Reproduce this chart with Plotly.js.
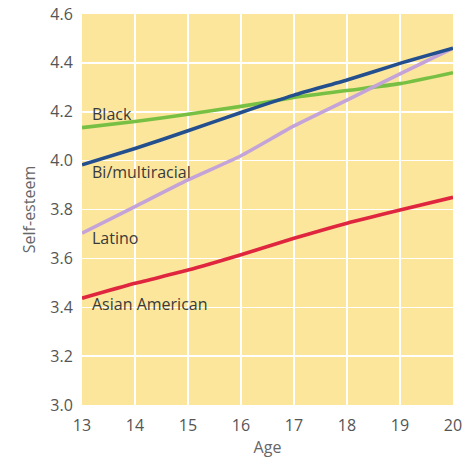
<!DOCTYPE html>
<html>
<head>
<meta charset="utf-8">
<script src="https://cdn.plot.ly/plotly-3.0.1.min.js"></script>
<style>html,body{margin:0;padding:0;background:#fff;}#chart{width:473px;height:464px;}</style>
</head>
<body>
<div id="chart"></div>
<script>
const ages = [13, 14, 15, 16, 17, 18, 19, 20];
const black = [4.135, 4.16, 4.19, 4.222, 4.258, 4.287, 4.315, 4.36];
const biMulti = [3.983, 4.05, 4.122, 4.197, 4.268, 4.33, 4.398, 4.46];
const latino = [3.703, 3.812, 3.921, 4.02, 4.142, 4.248, 4.355, 4.46];
const asianAmerican = [3.437, 3.498, 3.552, 3.615, 3.682, 3.744, 3.798, 3.85];
const seriesNames = ["Black", "Bi/multiracial", "Latino", "Asian American"];
const labelY = [4.19, 3.953, 3.683, 3.413];
const yTicks = [3.0, 3.2, 3.4, 3.6, 3.8, 4.0, 4.2, 4.4, 4.6];

const colors = ["#78c043", "#234f8e", "#c3a3d8", "#e0253f"];
const traces = [black, biMulti, latino, asianAmerican].map((vals, i) => ({
  x: ages, y: vals, type: "scatter", mode: "lines", name: seriesNames[i],
  line: {color: colors[i], width: 3.6, shape: "spline", smoothing: 0.6},
  hoverinfo: "skip"
}));
// draw order: black, latino, asian, bi/multi on top
const drawn = [traces[0], traces[2], traces[3], traces[1]];

const annotations = seriesNames.map((n, i) => ({
  x: 13.15, y: labelY[i], xref: "x", yref: "y", text: n, showarrow: false,
  xanchor: "left", yanchor: "middle",
  font: {family: "Open Sans, Lato, sans-serif", size: 16, color: "#3a3a3a"}
}));

const layout = {
  width: 473, height: 464,
  margin: {l: 82, r: 20, t: 14, b: 59, pad: 0},
  paper_bgcolor: "#ffffff",
  plot_bgcolor: "#fbe69c",
  showlegend: false,
  font: {family: "Open Sans, Lato, sans-serif", color: "#555555", size: 16},
  xaxis: {
    range: [13, 20], tickvals: ages, ticktext: ages.map(String),
    showgrid: true, gridcolor: "#ffffff", gridwidth: 1.5, zeroline: false,
    showline: false, ticks: "outside", ticklen: 6, tickcolor: "rgba(0,0,0,0)",
    tickfont: {size: 16, color: "#555555"},
    title: {text: "Age", font: {size: 16, color: "#666666"}, standoff: 6}
  },
  yaxis: {
    range: [3.0, 4.6], tickvals: yTicks, ticktext: yTicks.map(v => v.toFixed(1)),
    showgrid: true, gridcolor: "#ffffff", gridwidth: 1.5, zeroline: false,
    showline: false, ticks: "outside", ticklen: 5, tickcolor: "rgba(0,0,0,0)",
    tickfont: {size: 16, color: "#555555"},
    title: {text: "Self-esteem", font: {size: 16, color: "#666666"}, standoff: 10}
  },
  annotations: annotations
};

Plotly.newPlot("chart", drawn, layout, {staticPlot: true, displayModeBar: false});
</script>
</body>
</html>
